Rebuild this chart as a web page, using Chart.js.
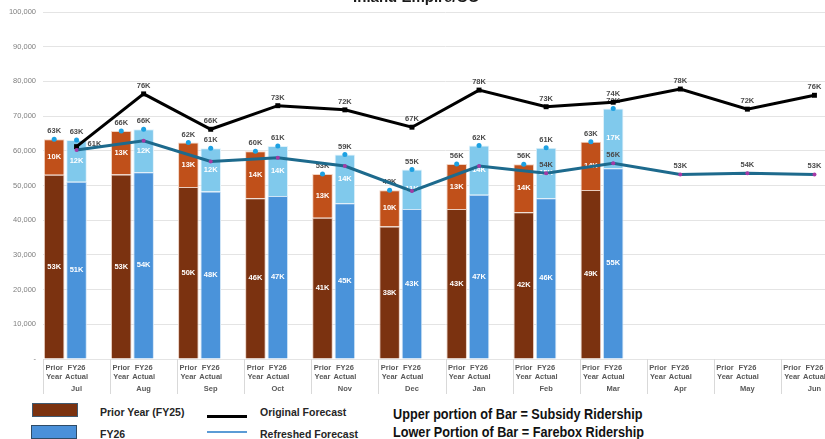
<!DOCTYPE html>
<html>
<head>
<meta charset="utf-8">
<script src="https://cdn.jsdelivr.net/npm/chart.js@4.4.1/dist/chart.umd.min.js"></script>
<style>
  html, body { margin: 0; padding: 0; background: #fff; overflow: hidden; width: 825px; height: 439px; }
  #wrap { position: absolute; left: 0; top: 0; width: 852px; height: 399px; }
  #title { position: absolute; top: -11px; left: 0; width: 832px; text-align: center;
           font: bold 15px 'Liberation Sans', Arial, sans-serif; color: #1a1a1a; line-height: 15px; }
  .sw { position: absolute; width: 46px; height: 14px; box-sizing: border-box; }
  .ln { position: absolute; width: 40px; }
  .lt { position: absolute; font: bold 10.5px 'Liberation Sans', Arial, sans-serif; color: #262626; line-height: 12px; }
  .note { position: absolute; left: 393px; font: bold 14px 'Liberation Sans', Arial, sans-serif;
          color: #111; line-height: 16px; white-space: nowrap; transform: scale(0.905, 1); transform-origin: left center; }
</style>
</head>
<body>
<div id="wrap"><canvas id="c" width="852" height="399"></canvas></div>
<div id="title">Inland Empire/OC</div>

<div class="sw" style="left:32px;top:403px;background:#7B3210;border:1.5px solid #3F5A72;"></div>
<div class="lt" style="left:100px;top:406px;">Prior Year (FY25)</div>
<div class="sw" style="left:31px;top:425px;background:#4A90D9;border:1.5px solid #2F4B66;"></div>
<div class="lt" style="left:100px;top:428px;">FY26</div>
<div class="ln" style="left:207px;top:415px;height:3px;background:#000;"></div>
<div class="lt" style="left:260px;top:406px;">Original Forecast</div>
<div class="ln" style="left:207px;top:431px;height:2px;background:#5B9BD5;"></div>
<div class="lt" style="left:260px;top:428px;">Refreshed Forecast</div>
<div class="note" style="top:406px;">Upper portion of Bar = Subsidy Ridership</div>
<div class="note" style="top:424px;">Lower Portion of Bar = Farebox Ridership</div>

<script>
// Months of the fiscal year
const months = ['Jul', 'Aug', 'Sep', 'Oct', 'Nov', 'Dec', 'Jan', 'Feb', 'Mar', 'Apr', 'May', 'Jun'];
// Sub-category labels inside each month
const subLabels = [['Prior', 'Year'], ['FY26', 'Actual'], ''];

// Prior year (FY25) ridership, split into farebox (lower) and subsidy (upper)
const priorFarebox = [53100, 53200, 49600, 46300, 40700, 38200, 43200, 42300, 48700];
const priorSubsidy = [10200, 12500, 12800, 13600, 12600, 10400, 13000, 13800, 13900];
// FY26 actual ridership
const fy26Farebox = [51100, 53800, 48300, 47000, 44900, 43200, 47300, 46300, 55000];
const fy26Subsidy = [12000, 12400, 12400, 14400, 14000, 11400, 14200, 14600, 17200];
// Forecasts
const originalForecast = [61200, 76400, 66200, 73000, 71800, 66800, 77500, 72700, 74000, 77800, 72000, 76000];
const refreshedForecast = [60200, 62900, 56900, 58000, 55600, 48400, 55600, 53500, 56400, 53200, 53500, 53200];

// Y axis ticks
const yTicks = { min: 0, max: 100000, step: 10000 };

const SLOTS = 3; // prior, FY26, spacer
const N = months.length * SLOTS;
const labels = [];
months.forEach(() => subLabels.forEach(s => labels.push(s)));

function place(values, slot) {
  const out = new Array(N).fill(null);
  values.forEach((v, i) => { out[i * SLOTS + slot] = v; });
  return out;
}
const sum = (a, b) => a.map((v, i) => v + b[i]);

const fmtK = v => Math.round(v / 1000) + 'K';
const FONT = "'Liberation Sans', Arial, sans-serif";

// Draws value labels for bars and lines
const valueLabels = {
  id: 'valueLabels',
  afterDatasetDraw(chart, args) {
    const ds = chart.data.datasets[args.index];
    const kind = ds.labelKind;
    if (!kind) return;
    const ctx = chart.ctx;
    ctx.save();
    ctx.font = 'bold 7.5px ' + FONT;
    ctx.textAlign = 'center';
    ctx.textBaseline = 'middle';
    args.meta.data.forEach((el, i) => {
      const v = ds.data[i];
      if (v === null || v === undefined) return;
      if (kind === 'segment') {
        ctx.fillStyle = '#ffffff';
        ctx.fillText(fmtK(v), el.x, (el.y + el.base) / 2);
      } else {
        if (ds.labelFromIndex !== undefined && i < ds.labelFromIndex) return;
        ctx.fillStyle = '#4a4a4a';
        if (ds.firstLabelRight && i === ds.data.findIndex(d => d !== null)) {
          ctx.textAlign = 'left';
          ctx.fillText(fmtK(v), el.x + 11, el.y - 3);
          ctx.textAlign = 'center';
        } else {
          ctx.fillText(fmtK(v), el.x, el.y - 8);
        }
      }
    });
    ctx.restore();
  }
};

// Vertical separators between month groups below the plot
const monthDividers = {
  id: 'monthDividers',
  afterDraw(chart) {
    const x = chart.scales.x;
    const area = chart.chartArea;
    const ctx = chart.ctx;
    const w = (x.right - x.left) / months.length;
    ctx.save();
    ctx.strokeStyle = '#d9d9d9';
    ctx.lineWidth = 1;
    for (let i = 0; i <= months.length; i++) {
      const px = Math.round(x.left + i * w) + 0.5;
      ctx.beginPath();
      ctx.moveTo(px, area.bottom);
      ctx.lineTo(px, area.bottom + 35);
      ctx.stroke();
    }
    ctx.restore();
  }
};

// All bars share one stack: each category only holds one of the two bars
const barCommon = { type: 'bar', stack: 'bars', barPercentage: 0.92, categoryPercentage: 1,
                    borderWidth: 1, order: 2, labelKind: 'segment' };

new Chart(document.getElementById('c'), {
  data: {
    labels,
    datasets: [
      { ...barCommon, label: 'Prior Year Farebox', data: place(priorFarebox, 0),
        backgroundColor: '#7B3210', borderColor: '#E9CDBF' },
      { ...barCommon, label: 'Prior Year Subsidy', data: place(priorSubsidy, 0),
        backgroundColor: '#C0501A', borderColor: '#F2D3C2' },
      { ...barCommon, label: 'FY26 Farebox', data: place(fy26Farebox, 1),
        backgroundColor: '#4A93DA', borderColor: '#CFE4F6' },
      { ...barCommon, label: 'FY26 Subsidy', data: place(fy26Subsidy, 1),
        backgroundColor: '#80C9EC', borderColor: '#E0F2FB' },
      { type: 'line', label: 'Prior Year Total', data: place(sum(priorFarebox, priorSubsidy), 0), stack: 'tp',
        showLine: false, pointRadius: 2.5, pointBackgroundColor: '#1DA1E2', pointBorderWidth: 0, order: 1, labelKind: 'point' },
      { type: 'line', label: 'FY26 Total', data: place(sum(fy26Farebox, fy26Subsidy), 1), stack: 'tf',
        showLine: false, pointRadius: 2.5, pointBackgroundColor: '#1DA1E2', pointBorderWidth: 0, order: 1, labelKind: 'point' },
      { type: 'line', label: 'Refreshed Forecast', data: place(refreshedForecast, 1), stack: 'rf', spanGaps: true,
        borderColor: '#1D6A8D', borderWidth: 3, pointRadius: 2, pointBackgroundColor: '#A53AA6', pointBorderWidth: 0,
        order: 0, labelKind: 'point', labelFromIndex: 7 * SLOTS },
      { type: 'line', label: 'Original Forecast', data: place(originalForecast, 1), stack: 'of', spanGaps: true,
        borderColor: '#000000', borderWidth: 3, pointStyle: 'rect', pointRadius: 3.5, pointBackgroundColor: '#000', pointBorderWidth: 0,
        order: 0, labelKind: 'point', firstLabelRight: true }
    ]
  },
  options: {
    responsive: false,
    animation: false,
    events: [],
    layout: { padding: { top: 12, right: 2, left: 0, bottom: 0 } },
    plugins: { legend: { display: false }, tooltip: { enabled: false }, title: { display: false } },
    scales: {
      x: {
        stacked: true,
        offset: true,
        grid: { display: false, drawTicks: false },
        border: { display: false },
        ticks: { autoSkip: false, maxRotation: 0, minRotation: 0, padding: 5, color: '#595959',
                 font: { family: FONT, size: 7.5, weight: 'bold', lineHeight: 1.15 } },
        afterFit(s) { s.height = 25; }
      },
      month: {
        type: 'category',
        labels: months,
        position: 'bottom',
        offset: true,
        grid: { display: false, drawTicks: false },
        border: { display: false },
        ticks: { autoSkip: false, maxRotation: 0, padding: 0, color: '#595959',
                 font: { family: FONT, size: 7.5, weight: 'bold' } },
        afterFit(s) { s.height = 15; }
      },
      y: {
        stacked: true,
        min: yTicks.min,
        max: yTicks.max,
        grid: { color: '#E4E4E4', drawTicks: false, lineWidth: 1 },
        border: { display: false },
        ticks: { stepSize: yTicks.step, padding: 7, color: '#7F7F7F',
                 font: { family: FONT, size: 7.5 },
                 callback: v => v === 0 ? '-' : v.toLocaleString('en-US') },
        afterFit(s) { s.width = 43; }
      }
    }
  },
  plugins: [valueLabels, monthDividers]
});
</script>
</body>
</html>
